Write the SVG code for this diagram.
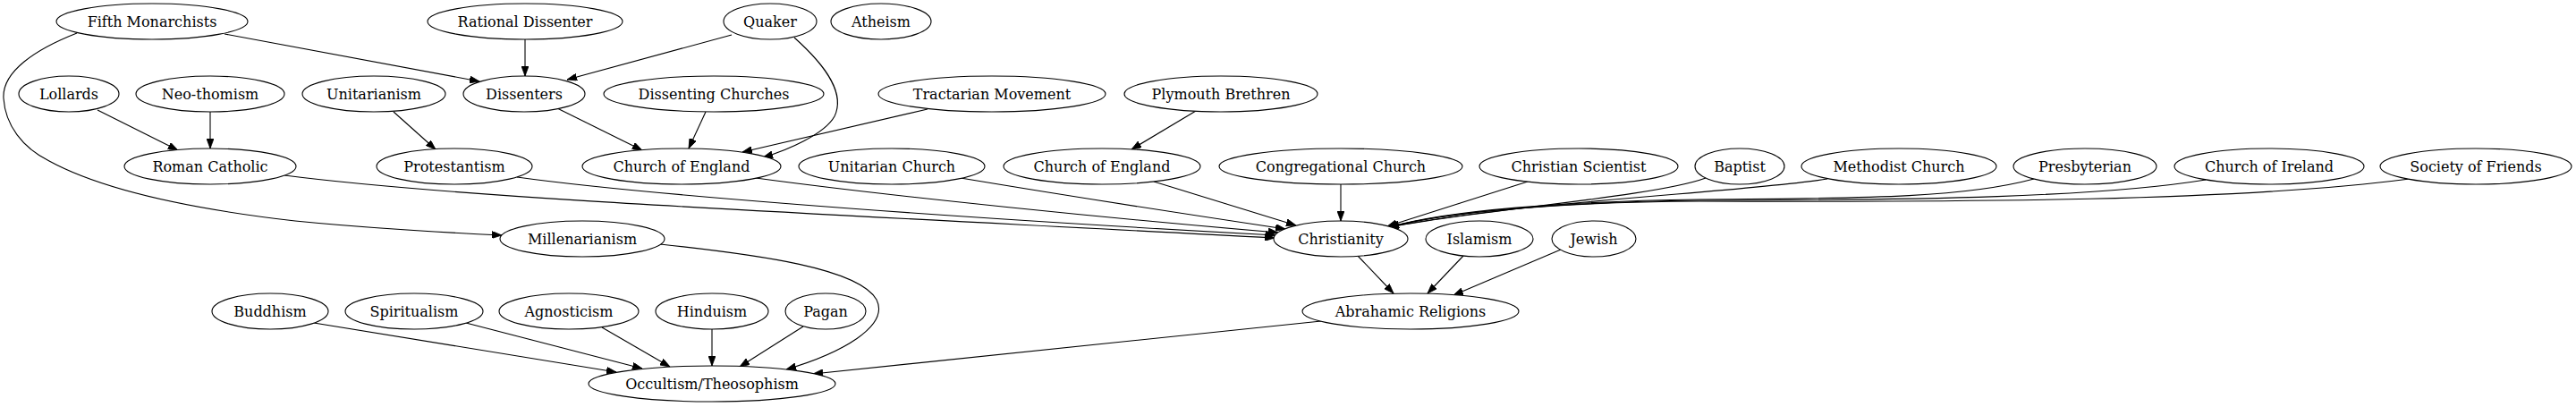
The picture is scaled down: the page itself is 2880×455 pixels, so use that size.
<svg xmlns="http://www.w3.org/2000/svg" width="2880" height="455" viewBox="0 0 2880 455">
<style>
.n ellipse{fill:#fff;stroke:#000;stroke-width:1.1}
.n text{font-family:"DejaVu Serif","Liberation Serif",serif;font-size:16px;text-anchor:middle;fill:#000}
#edges path{fill:none;stroke:#000;stroke-width:1.1;marker-end:url(#arr)}
</style>
<defs>
<marker id="arr" viewBox="0 0 11 8" refX="11" refY="4" markerWidth="11" markerHeight="8" markerUnits="userSpaceOnUse" orient="auto">
<path d="M0,0 L11,4 L0,8 z" fill="#000" stroke="#000" stroke-width="0.8"/>
</marker>
</defs>
<rect width="2880" height="455" fill="#fff"/>
<g id="edges">
<path d="M251,38 L536,91"/>
<path d="M86,37 C40,55 2,80 4,110 C6,140 25,165 55,180 C110,210 200,232 330,247 C420,256 500,260 561,263"/>
<path d="M587,44 L587,85"/>
<path d="M818,39 L634,89"/>
<path d="M888,42 C925,75 945,105 933,130 C922,150 880,168 853,176"/>
<path d="M109,123 L199,168"/>
<path d="M235,125 L235,166"/>
<path d="M440,125 L487,167"/>
<path d="M623,121 L718,168"/>
<path d="M789,125 L770,166"/>
<path d="M1037,122 L830,170"/>
<path d="M1337,124 L1265,167"/>
<path d="M318,196 C520,222 900,238 1425,266"/>
<path d="M578,198 C700,215 1000,240 1426,263"/>
<path d="M845,199 C1000,220 1250,245 1429,260"/>
<path d="M1074,199 C1200,220 1350,243 1437,256"/>
<path d="M1290,203 L1449,252"/>
<path d="M1499,206 L1499,247"/>
<path d="M1708,203 L1551,253"/>
<path d="M1907,199 C1850,220 1650,235 1553,254"/>
<path d="M2043,200 C1950,215 1700,225 1553,254"/>
<path d="M2274,200 C2200,220 2100,222 1900,223 C1750,225 1620,235 1553,254"/>
<path d="M2466,201 C2350,220 2150,224 1900,224 C1750,226 1620,236 1553,254"/>
<path d="M2694,200 C2500,225 2200,226 1900,225 C1750,226 1620,236 1553,254"/>
<path d="M1518,286 L1558,328"/>
<path d="M1636,286 L1596,328"/>
<path d="M1745,279 L1625,330"/>
<path d="M1477,359 L909,418"/>
<path d="M351,361 L689,416"/>
<path d="M521,361 L718,412"/>
<path d="M673,366 L749,410"/>
<path d="M796,368 L796,409"/>
<path d="M898,365 L827,410"/>
<path d="M738,273 C850,285 960,300 980,335 C995,365 940,395 879,413"/>
</g>
<g id="fifth" class="n"><ellipse cx="170" cy="24" rx="107" ry="20"/><text x="170" y="29.5">Fifth Monarchists</text></g>
<g id="rational" class="n"><ellipse cx="587" cy="24" rx="109" ry="20"/><text x="587" y="29.5">Rational Dissenter</text></g>
<g id="quaker" class="n"><ellipse cx="861" cy="24" rx="52" ry="20"/><text x="861" y="29.5">Quaker</text></g>
<g id="atheism" class="n"><ellipse cx="985" cy="24" rx="56" ry="20"/><text x="985" y="29.5">Atheism</text></g>
<g id="lollards" class="n"><ellipse cx="77" cy="105" rx="56" ry="20"/><text x="77" y="110.5">Lollards</text></g>
<g id="neothomism" class="n"><ellipse cx="235" cy="105" rx="83" ry="20"/><text x="235" y="110.5">Neo-thomism</text></g>
<g id="unitarianism" class="n"><ellipse cx="418" cy="105" rx="80" ry="20"/><text x="418" y="110.5">Unitarianism</text></g>
<g id="dissenters" class="n"><ellipse cx="586" cy="105" rx="68" ry="20"/><text x="586" y="110.5">Dissenters</text></g>
<g id="dissentingchurches" class="n"><ellipse cx="798" cy="105" rx="123" ry="20"/><text x="798" y="110.5">Dissenting Churches</text></g>
<g id="tractarian" class="n"><ellipse cx="1109" cy="105" rx="127" ry="20"/><text x="1109" y="110.5">Tractarian Movement</text></g>
<g id="plymouth" class="n"><ellipse cx="1365" cy="105" rx="108" ry="20"/><text x="1365" y="110.5">Plymouth Brethren</text></g>
<g id="romancatholic" class="n"><ellipse cx="235" cy="186" rx="96" ry="20"/><text x="235" y="191.5">Roman Catholic</text></g>
<g id="protestantism" class="n"><ellipse cx="508" cy="186" rx="87" ry="20"/><text x="508" y="191.5">Protestantism</text></g>
<g id="coe1" class="n"><ellipse cx="762" cy="186" rx="111" ry="20"/><text x="762" y="191.5">Church of England</text></g>
<g id="unitarianchurch" class="n"><ellipse cx="997" cy="186" rx="104" ry="20"/><text x="997" y="191.5">Unitarian Church</text></g>
<g id="coe2" class="n"><ellipse cx="1232" cy="186" rx="110" ry="20"/><text x="1232" y="191.5">Church of England</text></g>
<g id="congregational" class="n"><ellipse cx="1499" cy="186" rx="136" ry="20"/><text x="1499" y="191.5">Congregational Church</text></g>
<g id="christianscientist" class="n"><ellipse cx="1765" cy="186" rx="111" ry="20"/><text x="1765" y="191.5">Christian Scientist</text></g>
<g id="baptist" class="n"><ellipse cx="1945" cy="186" rx="50" ry="20"/><text x="1945" y="191.5">Baptist</text></g>
<g id="methodist" class="n"><ellipse cx="2123" cy="186" rx="109" ry="20"/><text x="2123" y="191.5">Methodist Church</text></g>
<g id="presbyterian" class="n"><ellipse cx="2331" cy="186" rx="80" ry="20"/><text x="2331" y="191.5">Presbyterian</text></g>
<g id="churchireland" class="n"><ellipse cx="2537" cy="186" rx="106" ry="20"/><text x="2537" y="191.5">Church of Ireland</text></g>
<g id="societyfriends" class="n"><ellipse cx="2768" cy="186" rx="107" ry="20"/><text x="2768" y="191.5">Society of Friends</text></g>
<g id="millenarianism" class="n"><ellipse cx="651" cy="267" rx="92" ry="20"/><text x="651" y="272.5">Millenarianism</text></g>
<g id="christianity" class="n"><ellipse cx="1499" cy="267" rx="75" ry="20"/><text x="1499" y="272.5">Christianity</text></g>
<g id="islamism" class="n"><ellipse cx="1654" cy="267" rx="60" ry="20"/><text x="1654" y="272.5">Islamism</text></g>
<g id="jewish" class="n"><ellipse cx="1782" cy="267" rx="47" ry="20"/><text x="1782" y="272.5">Jewish</text></g>
<g id="buddhism" class="n"><ellipse cx="302" cy="348" rx="65" ry="20"/><text x="302" y="353.5">Buddhism</text></g>
<g id="spiritualism" class="n"><ellipse cx="463" cy="348" rx="77" ry="20"/><text x="463" y="353.5">Spiritualism</text></g>
<g id="agnosticism" class="n"><ellipse cx="636" cy="348" rx="78" ry="20"/><text x="636" y="353.5">Agnosticism</text></g>
<g id="hinduism" class="n"><ellipse cx="796" cy="348" rx="63" ry="20"/><text x="796" y="353.5">Hinduism</text></g>
<g id="pagan" class="n"><ellipse cx="923" cy="348" rx="45" ry="20"/><text x="923" y="353.5">Pagan</text></g>
<g id="abrahamic" class="n"><ellipse cx="1577" cy="348" rx="121" ry="20"/><text x="1577" y="353.5">Abrahamic Religions</text></g>
<g id="occultism" class="n"><ellipse cx="796" cy="429" rx="138" ry="20"/><text x="796" y="434.5">Occultism/Theosophism</text></g>
</svg>
